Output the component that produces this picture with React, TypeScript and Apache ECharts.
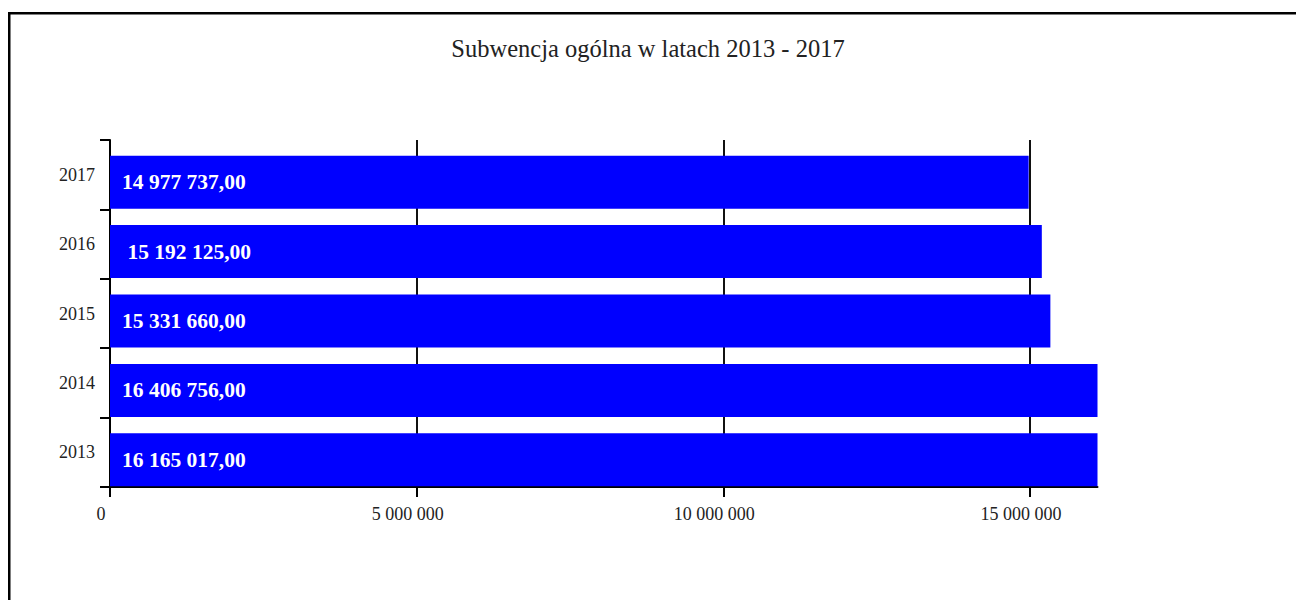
import React, { useEffect, useRef } from "react";
import * as echarts from "echarts";

const years = ["2013", "2014", "2015", "2016", "2017"];
const values = [16165017, 16406756, 15331660, 15192125, 14977737];
const valueLabels = ["16 165 017,00", "16 406 756,00", "15 331 660,00", " 15 192 125,00", "14 977 737,00"];
const xTicks = [0, 5000000, 10000000, 15000000];
const titleText = "Subwencja ogólna w latach 2013 - 2017";

const fmt = (v: number) => String(v).replace(/\B(?=(\d{3})+(?!\d))/g, " ");

export default function App() {
  const ref = useRef<HTMLDivElement>(null);
  useEffect(() => {
    if (!ref.current) return;
    const chart = echarts.init(ref.current, null, { renderer: "svg" });
    const serif = "'Liberation Serif', 'Times New Roman', serif";
    chart.setOption({
      animation: false,
      backgroundColor: "#fff",
      title: {
        text: titleText,
        left: "center",
        top: 31,
        textStyle: { fontFamily: serif, fontSize: 24.5, fontWeight: "normal", color: "#222" },
      },
      grid: { left: 110, right: 198.5, top: 140, bottom: 113, containLabel: false },
      xAxis: {
        type: "value",
        min: 0,
        max: 16100000,
        interval: 5000000,
        axisLine: { show: true, lineStyle: { color: "#000", width: 2 } },
        axisTick: { show: true, length: 10, inside: false, customValues: xTicks, lineStyle: { color: "#000", width: 2 } },
        axisLabel: {
          customValues: xTicks,
          margin: 18,
          fontFamily: serif,
          fontSize: 18,
          color: "#222",
          padding: [0, 18, 0, 0],
          formatter: (v: number) => fmt(v),
        },
        splitLine: { show: true, lineStyle: { color: "#111", width: 2 } },
      },
      yAxis: {
        type: "category",
        data: years,
        boundaryGap: true,
        axisLine: { show: true, lineStyle: { color: "#000", width: 2 } },
        axisTick: { show: true, length: 10, inside: false, lineStyle: { color: "#000", width: 2 } },
        axisLabel: { margin: 15, fontFamily: serif, fontSize: 18, color: "#222", padding: [0, 0, 4, 0] },
        splitLine: { show: false },
      },
      series: [
        {
          type: "bar",
          name: "spacer",
          data: years.map(() => "-"),
          barWidth: 53,
          barGap: "-71.7%",
          silent: true,
        },
        {
          type: "bar",
          name: "Subwencja",
          data: values,
          barWidth: 53,
          barGap: "-71.7%",
          itemStyle: { color: "#0000FF" },
          label: {
            show: true,
            position: "insideLeft",
            distance: 12,
            fontFamily: serif,
            fontSize: 21.5,
            fontWeight: "bold",
            color: "#fff",
            formatter: (p: any) => valueLabels[p.dataIndex],
          },
        },
      ],
      graphic: [
        { type: "rect", left: 8, top: 12, shape: { width: 2.5, height: 600 }, style: { fill: "#000" }, z: 100 },
        { type: "rect", left: 8, top: 12, shape: { width: 1300, height: 2.5 }, style: { fill: "#000" }, z: 100 },
      ],
    });
    return () => chart.dispose();
  }, []);
  return <div ref={ref} style={{ position: "absolute", left: 0, top: 0, width: 1296, height: 600 }} />;
}
